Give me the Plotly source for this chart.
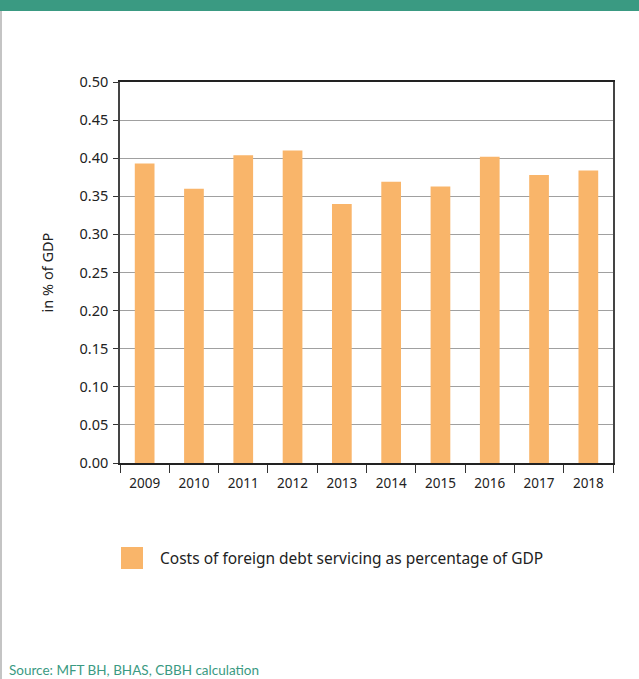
import plotly.graph_objects as go

# Costs of foreign debt servicing, in % of GDP
years = ["2009", "2010", "2011", "2012", "2013", "2014", "2015", "2016", "2017", "2018"]
debt_service_pct_gdp = [0.393, 0.360, 0.404, 0.410, 0.340, 0.369, 0.363, 0.402, 0.378, 0.384]
y_ticks = [0.00, 0.05, 0.10, 0.15, 0.20, 0.25, 0.30, 0.35, 0.40, 0.45, 0.50]
series_name = "Costs of foreign debt servicing as percentage of GDP"
source_note = "Source: MFT BH, BHAS, CBBH calculation"

BAR = "#F9B56A"
GREEN = "#3A9A82"
FONT = "Noto Sans"

fig = go.Figure()
fig.add_trace(go.Bar(
    x=years,
    y=debt_service_pct_gdp,
    name=series_name,
    marker=dict(color=BAR, line=dict(width=0)),
    width=0.4,
    showlegend=False,
))

fig.update_layout(
    width=639,
    height=679,
    margin=dict(l=120, r=26, t=82, b=216),
    paper_bgcolor="white",
    plot_bgcolor="white",
    font=dict(family=FONT, size=14, color="#222"),
    bargap=0.6,
    xaxis=dict(
        type="category",
        tickson="boundaries",
        ticks="outside",
        ticklen=8,
        tickcolor="#333",
        tickfont=dict(size=13.5),
        ticklabelstandoff=7,
        showline=True,
        linecolor="#222",
        linewidth=1.5,
        mirror=True,
        showgrid=False,
    ),
    yaxis=dict(
        range=[0, 0.5],
        tickvals=y_ticks,
        tickformat=".2f",
        ticks="outside",
        ticklen=5,
        tickcolor="#333",
        tickfont=dict(size=14.5),
        ticklabelstandoff=2,
        showline=True,
        linecolor="#444",
        linewidth=1.5,
        mirror=True,
        showgrid=True,
        gridcolor="#a0a0a0",
        gridwidth=1,
        zeroline=False,
        title=dict(text="in % of GDP", font=dict(size=14.5), standoff=22),
    ),
    shapes=[
        # header band
        dict(type="rect", xref="paper", yref="paper", x0=-120 / 493, x1=1 + 26 / 493,
             y0=1 + (82 - 11) / 381, y1=1 + 82 / 381 + 0.01,
             fillcolor=GREEN, line=dict(width=0), layer="above"),
        # left page rule
        dict(type="line", xref="paper", yref="paper", x0=-119 / 493, x1=-119 / 493,
             y0=-216 / 381 - 0.01, y1=1 + (82 - 11) / 381,
             line=dict(color="#c4c4c4", width=2)),
        # legend swatch
        dict(type="rect", xref="paper", yref="paper", x0=1 / 493, x1=23 / 493,
             y0=-(569 - 463) / 381, y1=-(547 - 463) / 381,
             fillcolor=BAR, line=dict(width=0)),
    ],
    annotations=[
        dict(text=series_name, xref="paper", yref="paper", x=38 / 493, y=-(558 - 463) / 381,
             xanchor="left", yanchor="middle", showarrow=False,
             font=dict(size=15.5, color="#222")),
        dict(text=source_note, xref="paper", yref="paper", x=-113 / 493, y=-(680 - 463) / 381,
             xanchor="left", yanchor="bottom", showarrow=False,
             font=dict(family="Lato", size=13.5, color=GREEN)),
    ],
)

fig.write_html("out.html")
